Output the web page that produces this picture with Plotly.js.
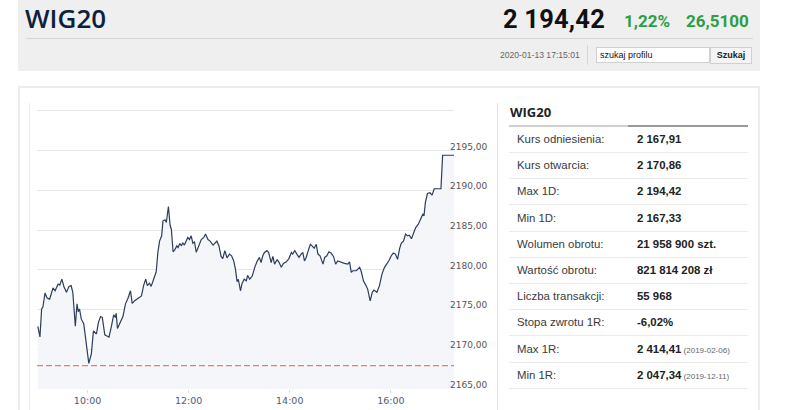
<!DOCTYPE html>
<html><head><meta charset="utf-8">
<script src="https://cdn.plot.ly/plotly-3.0.1.min.js"></script>
<style>
html,body{margin:0;padding:0;background:#fff;width:786px;height:410px;overflow:hidden;font-family:"Liberation Sans",Arial,sans-serif;}
.abs{position:absolute;}
#hdr{left:18px;top:0;width:742px;height:71px;background:#efefef;}
#hdrline{left:26px;top:38px;width:727px;height:1px;background:#d6d6d6;}
#title{left:25px;top:-1px;font-family:"Open Sans",sans-serif;font-size:26px;font-weight:600;color:#0e1f3d;line-height:38px;}
#price{left:503px;top:2px;font-family:Roboto,sans-serif;font-weight:700;font-size:25.5px;color:#111;line-height:34px;letter-spacing:0.2px;}
#pct{left:624px;top:8px;font-family:Roboto,sans-serif;font-weight:700;font-size:17px;color:#2e9e44;line-height:26px;}
#chg{left:686px;top:8px;font-family:Roboto,sans-serif;font-weight:700;font-size:17px;color:#2e9e44;line-height:26px;}
#ts{left:500px;top:49px;font-size:8.6px;color:#666;line-height:12px;}
#sep{left:587px;top:45px;width:1px;height:20px;background:#d6d6d6;}
#inp{left:596px;top:47px;width:109px;height:14px;background:#fff;border:1px solid #cfcfcf;font-size:9px;color:#111;line-height:14px;padding-left:3px;box-sizing:content-box;}
#btn{left:710px;top:47px;width:40px;height:15px;background:#f4f4f4;border:1px solid #d0d0d0;font-size:9px;font-weight:700;color:#222;line-height:15px;text-align:center;}
#box{left:18px;top:86px;width:738px;height:340px;border:2px solid #ececec;background:#fff;}
#vl1{left:29px;top:103px;width:1px;height:310px;background:#ececec;}
#vl2{left:497px;top:103px;width:1px;height:310px;background:#e4e4e4;}
#chart{left:20px;top:90px;width:477px;height:320px;}
#ptitle{left:510px;top:103px;font-family:"Open Sans",sans-serif;font-weight:700;font-size:13px;color:#222;line-height:18px;}
#ul1{left:509px;top:125px;width:119px;height:2px;background:#cfcfcf;}
#ul2{left:628px;top:125px;width:120px;height:2px;background:#9a9a9a;}
.row{position:absolute;left:509px;width:239px;height:26px;border-bottom:1px solid #ebebeb;font-size:11.4px;line-height:26px;color:#3a3a3a;}
.row .l{position:absolute;left:8px;}
.row .v{position:absolute;left:128px;font-weight:700;color:#222;}
.row .d{font-size:8px;font-weight:400;color:#666;}
</style></head>
<body>
<div id="hdr" class="abs"></div>
<div id="hdrline" class="abs"></div>
<div id="title" class="abs">WIG20</div>
<div id="price" class="abs">2 194,42</div>
<div id="pct" class="abs">1,22%</div>
<div id="chg" class="abs">26,5100</div>
<div id="ts" class="abs">2020-01-13 17:15:01</div>
<div id="sep" class="abs"></div>
<div id="inp" class="abs">szukaj profilu</div>
<div id="btn" class="abs">Szukaj</div>
<div id="box" class="abs"></div>
<div id="vl1" class="abs"></div>
<div id="vl2" class="abs"></div>
<div id="chart" class="abs"></div>
<div id="ptitle" class="abs">WIG20</div>
<div id="ul1" class="abs"></div>
<div id="ul2" class="abs"></div>
<div id="rows"></div>
<script>
// ---- data ----
const sessionDate = "2020-01-13";
const times = ["09:01:00","09:03:30","09:05:30","09:07:00","09:09:30","09:12:00","09:15:00","09:19:00","09:21:30","09:25:00","09:27:00","09:29:30","09:32:00","09:35:00","09:38:00","09:40:30","09:42:30","09:45:30","09:47:30","09:49:00","09:50:30","09:52:30","09:55:30","09:57:30","09:59:30","10:01:30","10:04:30","10:07:00","10:10:30","10:13:00","10:15:30","10:17:30","10:20:30","10:25:30","10:28:30","10:31:00","10:33:00","10:34:00","10:35:30","10:39:00","10:42:00","10:45:00","10:48:00","10:51:00","10:53:00","10:56:00","11:00:00","11:04:00","11:06:30","11:09:00","11:11:00","11:13:30","11:15:30","11:18:30","11:21:30","11:23:30","11:25:30","11:28:00","11:29:30","11:32:00","11:33:30","11:36:00","11:38:00","11:39:30","11:41:30","11:43:30","11:46:00","11:47:30","11:49:30","11:51:30","11:53:00","11:55:00","11:57:00","11:59:00","12:01:00","12:03:00","12:05:00","12:07:00","12:09:00","12:12:00","12:15:00","12:18:00","12:20:00","12:23:00","12:25:30","12:29:00","12:31:00","12:33:30","12:36:00","12:38:30","12:40:30","12:43:00","12:45:30","12:48:30","12:51:00","12:53:30","12:55:30","12:57:30","12:59:00","13:01:30","13:03:30","13:06:00","13:08:30","13:10:00","13:12:30","13:15:30","13:18:30","13:21:00","13:24:00","13:26:00","13:28:00","13:30:00","13:33:00","13:35:00","13:38:00","13:40:00","13:42:00","13:45:00","13:47:00","13:50:00","13:52:30","13:56:00","13:59:00","14:02:00","14:03:30","14:06:00","14:08:30","14:11:00","14:13:30","14:15:30","14:17:30","14:19:30","14:22:00","14:24:30","14:26:30","14:29:00","14:31:30","14:33:30","14:36:00","14:39:30","14:41:30","14:44:00","14:46:30","14:49:00","14:52:00","14:54:30","14:57:00","15:01:00","15:05:00","15:09:00","15:11:00","15:13:00","15:15:00","15:19:00","15:23:00","15:25:00","15:27:30","15:30:30","15:32:30","15:35:30","15:38:00","15:40:00","15:43:30","15:46:30","15:49:30","15:52:30","15:55:30","15:57:30","16:00:30","16:03:00","16:05:30","16:08:00","16:10:30","16:12:30","16:15:00","16:17:30","16:20:00","16:22:00","16:24:30","16:27:00","16:29:30","16:32:30","16:35:30","16:38:00","16:39:30","16:41:00","16:43:30","16:46:30","16:49:00","16:51:30","16:54:30","16:59:30","17:01:30","17:15:00"];
const prices = [2172.87,2171.53,2175.05,2175.30,2177.06,2176.43,2176.30,2177.70,2177.35,2178.20,2178.07,2178.82,2177.86,2177.15,2177.90,2178.00,2177.15,2172.87,2175.70,2174.70,2175.05,2173.80,2173.20,2171.70,2169.60,2168.20,2169.40,2172.30,2171.90,2173.40,2174.10,2174.00,2171.80,2171.50,2172.95,2174.30,2174.00,2174.50,2172.60,2173.40,2174.10,2175.70,2176.40,2177.35,2175.75,2176.10,2176.40,2176.70,2178.00,2178.80,2178.00,2178.30,2177.90,2178.80,2179.74,2182.20,2183.60,2184.27,2186.16,2186.30,2185.95,2187.96,2185.60,2185.10,2182.26,2182.50,2183.00,2182.80,2183.30,2183.00,2183.40,2183.10,2183.60,2184.06,2183.80,2184.27,2183.35,2183.50,2182.20,2183.00,2183.80,2184.06,2184.50,2183.80,2183.60,2183.10,2183.35,2183.60,2183.00,2181.67,2181.40,2182.40,2181.50,2181.97,2181.76,2181.10,2180.10,2178.50,2178.80,2177.35,2178.30,2178.80,2178.60,2179.30,2178.80,2179.20,2180.30,2181.00,2181.55,2180.90,2181.76,2182.17,2182.40,2182.17,2180.90,2181.67,2180.70,2181.25,2181.00,2180.30,2180.80,2181.00,2181.40,2182.17,2181.97,2182.40,2181.97,2181.55,2181.97,2182.17,2181.10,2181.55,2182.40,2183.20,2183.00,2182.70,2183.20,2181.97,2181.76,2180.70,2181.55,2181.76,2182.26,2182.10,2181.67,2180.70,2181.10,2180.90,2180.80,2180.70,2181.00,2179.66,2179.87,2179.87,2180.30,2179.74,2178.60,2178.00,2177.56,2176.06,2177.15,2177.44,2177.15,2178.00,2179.45,2180.30,2180.70,2181.10,2181.76,2182.10,2181.97,2181.30,2182.70,2183.35,2183.60,2184.50,2184.27,2184.35,2183.90,2184.70,2185.30,2185.70,2186.40,2187.00,2186.90,2188.46,2189.60,2189.70,2189.40,2190.20,2190.20,2190.20,2194.42,2194.42];
const referencePrice = 2167.91;
const yTickValues = [2165,2170,2175,2180,2185,2190,2195,2200];
const yTickLabels = ["2165,00","2170,00","2175,00","2180,00","2185,00","2190,00","2195,00",""];
const xTickTimes = ["10:00","12:00","14:00","16:00"];
const rangeStart = "09:00", rangeEnd = "17:15";
const tableLabels = ["Kurs odniesienia:","Kurs otwarcia:","Max 1D:","Min 1D:","Wolumen obrotu:","Wartość obrotu:","Liczba transakcji:","Stopa zwrotu 1R:","Max 1R:","Min 1R:"];
const tableValues = ["2 167,91","2 170,86","2 194,42","2 167,33","21 958 900 szt.","821 814 208 zł","55 968","-6,02%","2 414,41","2 047,34"];
const tableDates = ["","","","","","","","","(2019-02-06)","(2019-12-11)"];

// ---- table ----
const rows = document.getElementById('rows');
tableLabels.forEach((lab,i)=>{
  const r=document.createElement('div'); r.className='row'; r.style.top=(126+i*26.2)+'px';
  const l=document.createElement('span'); l.className='l'; l.textContent=lab; r.appendChild(l);
  const v=document.createElement('span'); v.className='v'; v.textContent=tableValues[i];
  if(tableDates[i]){const d=document.createElement('span'); d.className='d'; d.textContent=' '+tableDates[i]; v.appendChild(d);}
  r.appendChild(v); rows.appendChild(r);
});

// ---- chart ----
const d = t => sessionDate+' '+t;
const trace = {
  x: times.map(d), y: prices, type:'scatter', mode:'lines',
  line:{color:'#2d3d5a', width:1.2}, fill:'tozeroy', fillcolor:'#f4f6f9', hoverinfo:'skip'
};
const layout = {
  width:477, height:320, margin:{l:17,r:43,t:19,b:21},
  paper_bgcolor:'rgba(0,0,0,0)', plot_bgcolor:'rgba(0,0,0,0)',
  showlegend:false,
  xaxis:{type:'date', range:[d(rangeStart),d(rangeEnd)], tickvals:xTickTimes.map(d), ticktext:xTickTimes,
    showgrid:false, zeroline:false, showline:false, ticks:'outside', ticklen:3, tickcolor:'#dddddd',
    tickfont:{family:'DejaVu Sans', size:9.5, color:'#4d5c78'}},
  yaxis:{range:[2164.97,2200.25], side:'right', tickvals:yTickValues, ticktext:yTickLabels,
    showgrid:true, gridcolor:'#e6e6e6', gridwidth:1, zeroline:false, showline:false, ticks:'',
    ticklabelposition:'outside top', ticklabelstandoff:-5, ticklabelshift:2,
    tickfont:{family:'DejaVu Sans', size:9, color:'#555555'}},
  shapes:[{type:'line', xref:'paper', x0:0, x1:1, yref:'y', y0:referencePrice, y1:referencePrice,
    line:{color:'#f47878', width:1.1, dash:'6px,3px'}}]
};
Plotly.newPlot('chart',[trace],layout,{staticPlot:true, displayModeBar:false});
</script>
</body></html>
